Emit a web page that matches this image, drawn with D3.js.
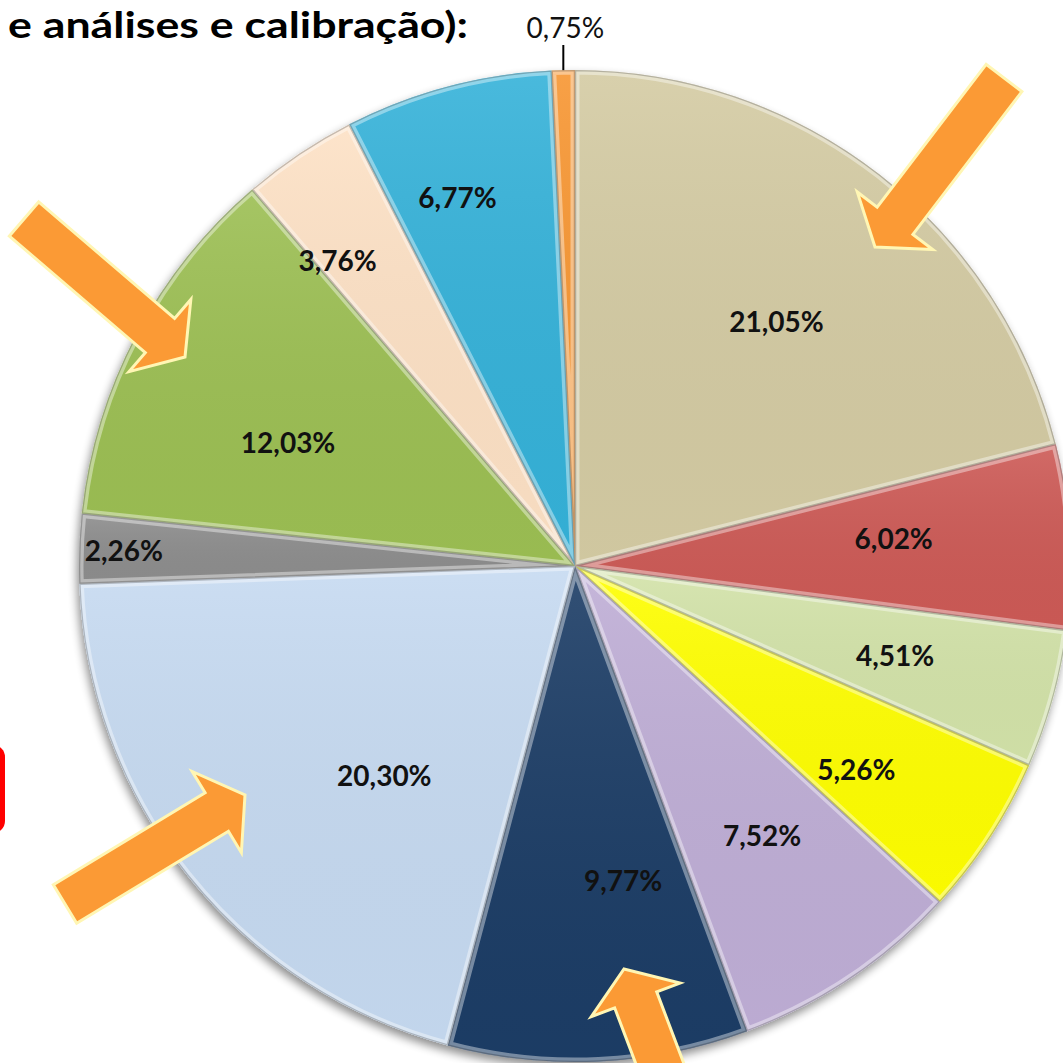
<!DOCTYPE html>
<html>
<head>
<meta charset="utf-8">
<script src="https://cdn.jsdelivr.net/npm/d3@7"></script>
<style>
  html, body { margin: 0; padding: 0; background: #fff; }
  svg { display: block; }
</style>
</head>
<body>
<div id="chart"></div>
<script>
// slice values (%) clockwise from 12 o'clock
const values = [21.05, 6.02, 4.51, 5.26, 7.52, 9.77, 20.30, 2.26, 12.03, 3.76, 6.77, 0.75];
const labels = ["21,05%", "6,02%", "4,51%", "5,26%", "7,52%", "9,77%", "20,30%", "2,26%", "12,03%", "3,76%", "6,77%", "0,75%"];
const colors = ["#d4cba3", "#cd5a56", "#d3e3a9", "#ffff00", "#bfaed6", "#1f3e66",
                "#c6daf1", "#8d8d8d", "#9cbf52", "#fde1c5", "#36b2d9", "#f79632"];

// label placement: radius fraction and angle nudge (deg), like Excel's best fit
const labelR = [0.64, 0.645, 0.67, 0.70, 0.66, 0.64, 0.57, 0.91, 0.63, 0.78, 0.78, 0];
const labelDA = [1.5, -1.6, 0, 2.7, -1, -6, -9, 0, -4.4, -4, -2.8, 0];

const titleText = "e análises e calibração):";

const width = 1063, height = 1063;
const cx = 575, cy = 566, radius = 496;

const svg = d3.select("#chart").append("svg")
    .attr("width", width)
    .attr("height", height);

const defs = svg.append("defs");

const shadow = defs.append("filter").attr("id", "shadow")
    .attr("x", "-10%").attr("y", "-10%").attr("width", "120%").attr("height", "120%");
shadow.append("feGaussianBlur").attr("in", "SourceAlpha").attr("stdDeviation", 5);
shadow.append("feOffset").attr("dx", -2).attr("dy", 5).attr("result", "blur");
shadow.append("feComponentTransfer").append("feFuncA").attr("type", "linear").attr("slope", 0.45);
const merge = shadow.append("feMerge");
merge.append("feMergeNode");
merge.append("feMergeNode").attr("in", "SourceGraphic");

// subtle top-light overlay
const grad = defs.append("linearGradient").attr("id", "sheen")
    .attr("x1", 0).attr("y1", 0).attr("x2", 0).attr("y2", 1);
grad.append("stop").attr("offset", "0%").attr("stop-color", "#fff").attr("stop-opacity", 0.1);
grad.append("stop").attr("offset", "100%").attr("stop-color", "#000").attr("stop-opacity", 0.02);

// Title (partially visible)
svg.append("text")
    .attr("x", 8)
    .attr("y", 38)
    .attr("textLength", 460)
    .attr("lengthAdjust", "spacingAndGlyphs")
    .style("font-family", "Lato, 'Open Sans', sans-serif")
    .style("font-weight", "bold")
    .style("font-size", "37px")
    .style("fill", "#000")
    .text(titleText);

// red box at left edge (cut off)
svg.append("rect")
    .attr("x", -200).attr("y", 745)
    .attr("width", 205).attr("height", 88)
    .attr("rx", 12)
    .attr("fill", "#ff0000");

const pie = d3.pie().value(d => d).sort(null);
const arcs = pie(values);
const arc = d3.arc().innerRadius(0).outerRadius(radius);

const g = svg.append("g").attr("transform", `translate(${cx},${cy})`);
const pieGroup = g.append("g").attr("filter", "url(#shadow)");

arcs.forEach((d, i) => {
    defs.append("clipPath").attr("id", "clip" + i)
        .append("path").attr("d", arc(d));
});

pieGroup.selectAll(".slice")
    .data(arcs)
    .join("path")
    .attr("class", "slice")
    .attr("d", arc)
    .attr("fill", (d, i) => colors[i]);

// bevel look: light inner edge and dark rim, clipped to each slice
const bevel = g.append("g");
bevel.selectAll(".hl")
    .data(arcs)
    .join("path")
    .attr("class", "hl")
    .attr("d", arc)
    .attr("clip-path", (d, i) => `url(#clip${i})`)
    .attr("fill", "url(#sheen)")
    .attr("stroke", "#fff")
    .attr("stroke-opacity", 0.4)
    .attr("stroke-width", 9);
bevel.selectAll(".rim")
    .data(arcs)
    .join("path")
    .attr("class", "rim")
    .attr("d", arc)
    .attr("clip-path", (d, i) => `url(#clip${i})`)
    .attr("fill", "none")
    .attr("stroke", "#000")
    .attr("stroke-opacity", 0.22)
    .attr("stroke-width", 2.5);

// labels
const toRad = Math.PI / 180;
g.selectAll(".lbl")
    .data(arcs.slice(0, arcs.length - 1))
    .join("text")
    .attr("class", "lbl")
    .each(function (d, i) {
        const a = (d.startAngle + d.endAngle) / 2 + labelDA[i] * toRad;
        const r = radius * labelR[i];
        d3.select(this)
            .attr("x", r * Math.sin(a))
            .attr("y", -r * Math.cos(a));
    })
    .attr("text-anchor", "middle")
    .attr("dominant-baseline", "central")
    .style("font-family", "Lato, 'Open Sans', sans-serif")
    .style("font-weight", "bold")
    .style("font-size", "28px")
    .style("fill", "#111")
    .text((d, i) => labels[i]);

// outside label for the smallest slice with leader line
const last = arcs[arcs.length - 1];
const am = (last.startAngle + last.endAngle) / 2;
const lx = radius * Math.sin(am);
g.append("line")
    .attr("x1", lx).attr("x2", lx)
    .attr("y1", -radius * Math.cos(am))
    .attr("y2", -radius - 25)
    .attr("stroke", "#000")
    .attr("stroke-width", 2);
g.append("text")
    .attr("x", lx + 2)
    .attr("y", -radius - 32)
    .attr("text-anchor", "middle")
    .style("font-family", "Lato, 'Open Sans', sans-serif")
    .style("font-size", "28px")
    .style("fill", "#111")
    .text(labels[labels.length - 1]);

// highlight arrows (annotations)
const arrows = [
    { tail: [1004, 78], tip: [875, 247] },
    { tail: [24, 219], tip: [185, 357] },
    { tail: [65, 904], tip: [245, 795] },
    { tail: [699, 1167], tip: [624, 969] }
];
const shaftW = 45, headW = 95, headL = 33;

function arrowPoints(a) {
    const [x0, y0] = a.tail, [x1, y1] = a.tip;
    const len = Math.hypot(x1 - x0, y1 - y0);
    const ux = (x1 - x0) / len, uy = (y1 - y0) / len;
    const nx = -uy, ny = ux;
    const bx = x1 - ux * headL, by = y1 - uy * headL;
    return [
        [x0 + nx * shaftW / 2, y0 + ny * shaftW / 2],
        [bx + nx * shaftW / 2, by + ny * shaftW / 2],
        [bx + nx * headW / 2, by + ny * headW / 2],
        [x1, y1],
        [bx - nx * headW / 2, by - ny * headW / 2],
        [bx - nx * shaftW / 2, by - ny * shaftW / 2],
        [x0 - nx * shaftW / 2, y0 - ny * shaftW / 2]
    ];
}

svg.append("g").selectAll("polygon")
    .data(arrows)
    .join("polygon")
    .attr("points", d => arrowPoints(d).map(p => p.join(",")).join(" "))
    .attr("fill", "#fb9a35")
    .attr("stroke", "#fff6b4")
    .attr("stroke-width", 3)
    .attr("stroke-linejoin", "miter");
</script>
</body>
</html>
